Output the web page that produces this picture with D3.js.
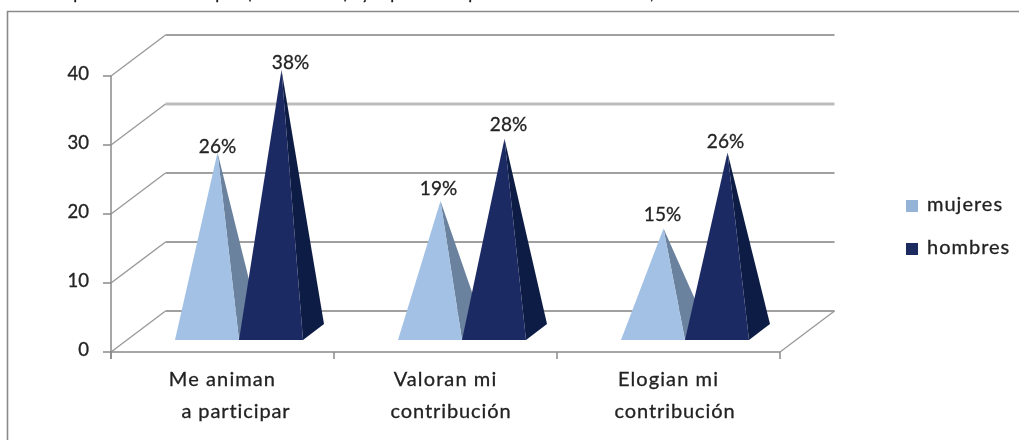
<!DOCTYPE html>
<html><head><meta charset="utf-8">
<script src="https://cdn.jsdelivr.net/npm/d3@7"></script>
<style>html,body{margin:0;padding:0;background:#fff;overflow:hidden}text{font-family:Lato,"Open Sans",sans-serif;fill:#222;stroke:#222;stroke-width:0.3px}</style>
</head><body><svg id="c" width="1019" height="440"></svg>
<script>
const categoryLine1 = ["Me animan", "Valoran mi", "Elogian mi"];
const categoryLine2 = ["a participar", "contribución", "contribución"];
const seriesNames = ["mujeres", "hombres"];
const mujeres = [26, 19, 15];
const hombres = [38, 28, 26];
const yTicks = [0, 10, 20, 30, 40];
const titleFragments = ["p", "p", "(", ")", "y", "p", "p", ","];

const svg = d3.select("#c");
const defs = svg.append("defs");
const f = defs.append("filter").attr("id","soft").attr("x","-2%").attr("y","-2%").attr("width","104%").attr("height","104%");
f.append("feGaussianBlur").attr("stdDeviation",0.42);
const root = svg.append("g").attr("filter","url(#soft)");

const y = d3.scaleLinear().domain([0,40]).range([352,76]);
const x = d3.scaleBand().domain(categoryLine1).range([111,780]);
const xs = d3.scaleBand().domain(seriesNames).range([64,192]);
const wall = {dx:54.5, dy:-41};
const pyr = {dx:21, dy:-16};
const lift = -20;       // floor lift of the pyramid centres
const frontY = 340;

// clipped title line above the frame
const titleX = [78,220,249,346,366,395,473,652];
root.append("g").selectAll("text").data(titleFragments).join("text")
  .attr("x",(d,i)=>titleX[i]).attr("y",-1.5).attr("text-anchor","middle")
  .attr("font-size",17).style("fill","#111").text(d=>d);

// frame
root.append("path").attr("d","M1030,11.5H7.5V450").attr("fill","none").attr("stroke","#8a8a8a").attr("stroke-width",1.6);

// back wall horizontals
const gridW = [1.8,1.8,1.8,3.2,1.8];
const gridC = ["#a0a0a0","#a0a0a0","#a0a0a0","#bdbdbd","#a0a0a0"];
root.append("g").selectAll("line").data(yTicks).join("line")
  .attr("x1",x.range()[0]+wall.dx).attr("x2",x.range()[1]+wall.dx)
  .attr("y1",d=>y(d)+wall.dy).attr("y2",d=>y(d)+wall.dy)
  .attr("stroke",(d,i)=>gridC[i]).attr("stroke-width",(d,i)=>gridW[i]);
// side wall diagonals
root.append("g").selectAll("line").data(yTicks).join("line")
  .attr("x1",x.range()[0]).attr("y1",d=>y(d)).attr("x2",x.range()[0]+wall.dx).attr("y2",d=>y(d)+wall.dy)
  .attr("stroke","#9a9a9a").attr("stroke-width",1.4);
// right floor edge
root.append("line").attr("x1",x.range()[1]).attr("y1",y(0)).attr("x2",x.range()[1]+wall.dx).attr("y2",y(0)+wall.dy)
  .attr("stroke","#9a9a9a").attr("stroke-width",1.4);

// axes
const axes = root.append("g").attr("stroke","#8a8a8a").attr("stroke-width",1.5);
axes.append("line").attr("x1",111).attr("x2",111).attr("y1",y(40)).attr("y2",y(0)+7);
axes.append("line").attr("x1",111).attr("x2",780).attr("y1",y(0)).attr("y2",y(0));
axes.selectAll(".yt").data(yTicks).join("line").attr("class","yt")
  .attr("x1",103).attr("x2",111).attr("y1",d=>y(d)).attr("y2",d=>y(d));
const xEdges = [x(categoryLine1[0]),x(categoryLine1[1]),x(categoryLine1[2]),x.range()[1]];
axes.selectAll(".xt").data(xEdges).join("line").attr("class","xt")
  .attr("x1",d=>d).attr("x2",d=>d).attr("y1",y(0)).attr("y2",y(0)+7);

root.append("g").selectAll("text").data(yTicks).join("text")
  .attr("x",89).attr("y",d=>y(d)-2).attr("dy","0.35em").attr("text-anchor","end")
  .attr("font-size",18.5).text(d=>d);

// pyramids
const colors = {mujeres:["#a2c1e5","#6b829e"], hombres:["#1f2a63","#0e1c44"]};
const series = [["mujeres",mujeres],["hombres",hombres]];
const marks = root.append("g");
const labelNudgeX = {mujeres:[0,-2,-1], hombres:[9,4,-2]};
const labelNudgeY = {mujeres:[3,-4,-5], hombres:[2,-5,-2]};
series.forEach(([name,vals])=>{
  vals.forEach((v,i)=>{
    const x0 = x(categoryLine1[i])+xs(name), w = xs.bandwidth();
    const ax = x0+w/2+pyr.dx/2, ay = y(v)+lift;
    const g = marks.append("g");
    g.append("path").attr("d",`M${x0+w},${frontY}L${x0+w+pyr.dx},${frontY+pyr.dy}L${ax},${ay}Z`).attr("fill",colors[name][1]);
    g.append("path").attr("d",`M${x0},${frontY}L${x0+w},${frontY}L${ax},${ay}Z`).attr("fill",colors[name][0]);
  });
});
series.forEach(([name,vals])=>{
  root.append("g").selectAll("text").data(vals).join("text")
    .attr("x",(v,i)=>x(categoryLine1[i])+xs(name)+xs.bandwidth()/2+pyr.dx/2+labelNudgeX[name][i])
    .attr("y",(v,i)=>y(v)+lift-9+labelNudgeY[name][i]).attr("dy","0.35em").attr("text-anchor","middle")
    .attr("font-size",19).text(v=>v+"%");
});

// category labels
const line2Nudge = [13.5,5.5,6.5];
root.append("g").selectAll("text").data(categoryLine1).join("text")
  .attr("x",d=>x(d)+x.bandwidth()/2).attr("y",379).attr("dy","0.35em").attr("text-anchor","middle")
  .attr("font-size",20).attr("letter-spacing",1.1).text(d=>d);
root.append("g").selectAll("text").data(categoryLine2).join("text")
  .attr("x",(d,i)=>x(categoryLine1[i])+x.bandwidth()/2+line2Nudge[i]).attr("y",411).attr("dy","0.35em").attr("text-anchor","middle")
  .attr("font-size",20).attr("letter-spacing",0.9).text(d=>d);

// legend
const ly = d3.scalePoint().domain(seriesNames).range([206,249]);
const legendC = {mujeres:"#95b3d7", hombres:"#1f2a60"};
root.append("g").selectAll("rect").data(seriesNames).join("rect")
  .attr("x",906).attr("y",d=>ly(d)-6).attr("width",12).attr("height",12).attr("fill",d=>legendC[d]);
root.append("g").selectAll("text").data(seriesNames).join("text")
  .attr("x",927).attr("y",d=>ly(d)-2).attr("dy","0.35em").attr("font-size",20).attr("letter-spacing",1).text(d=>d);
</script></body></html>
